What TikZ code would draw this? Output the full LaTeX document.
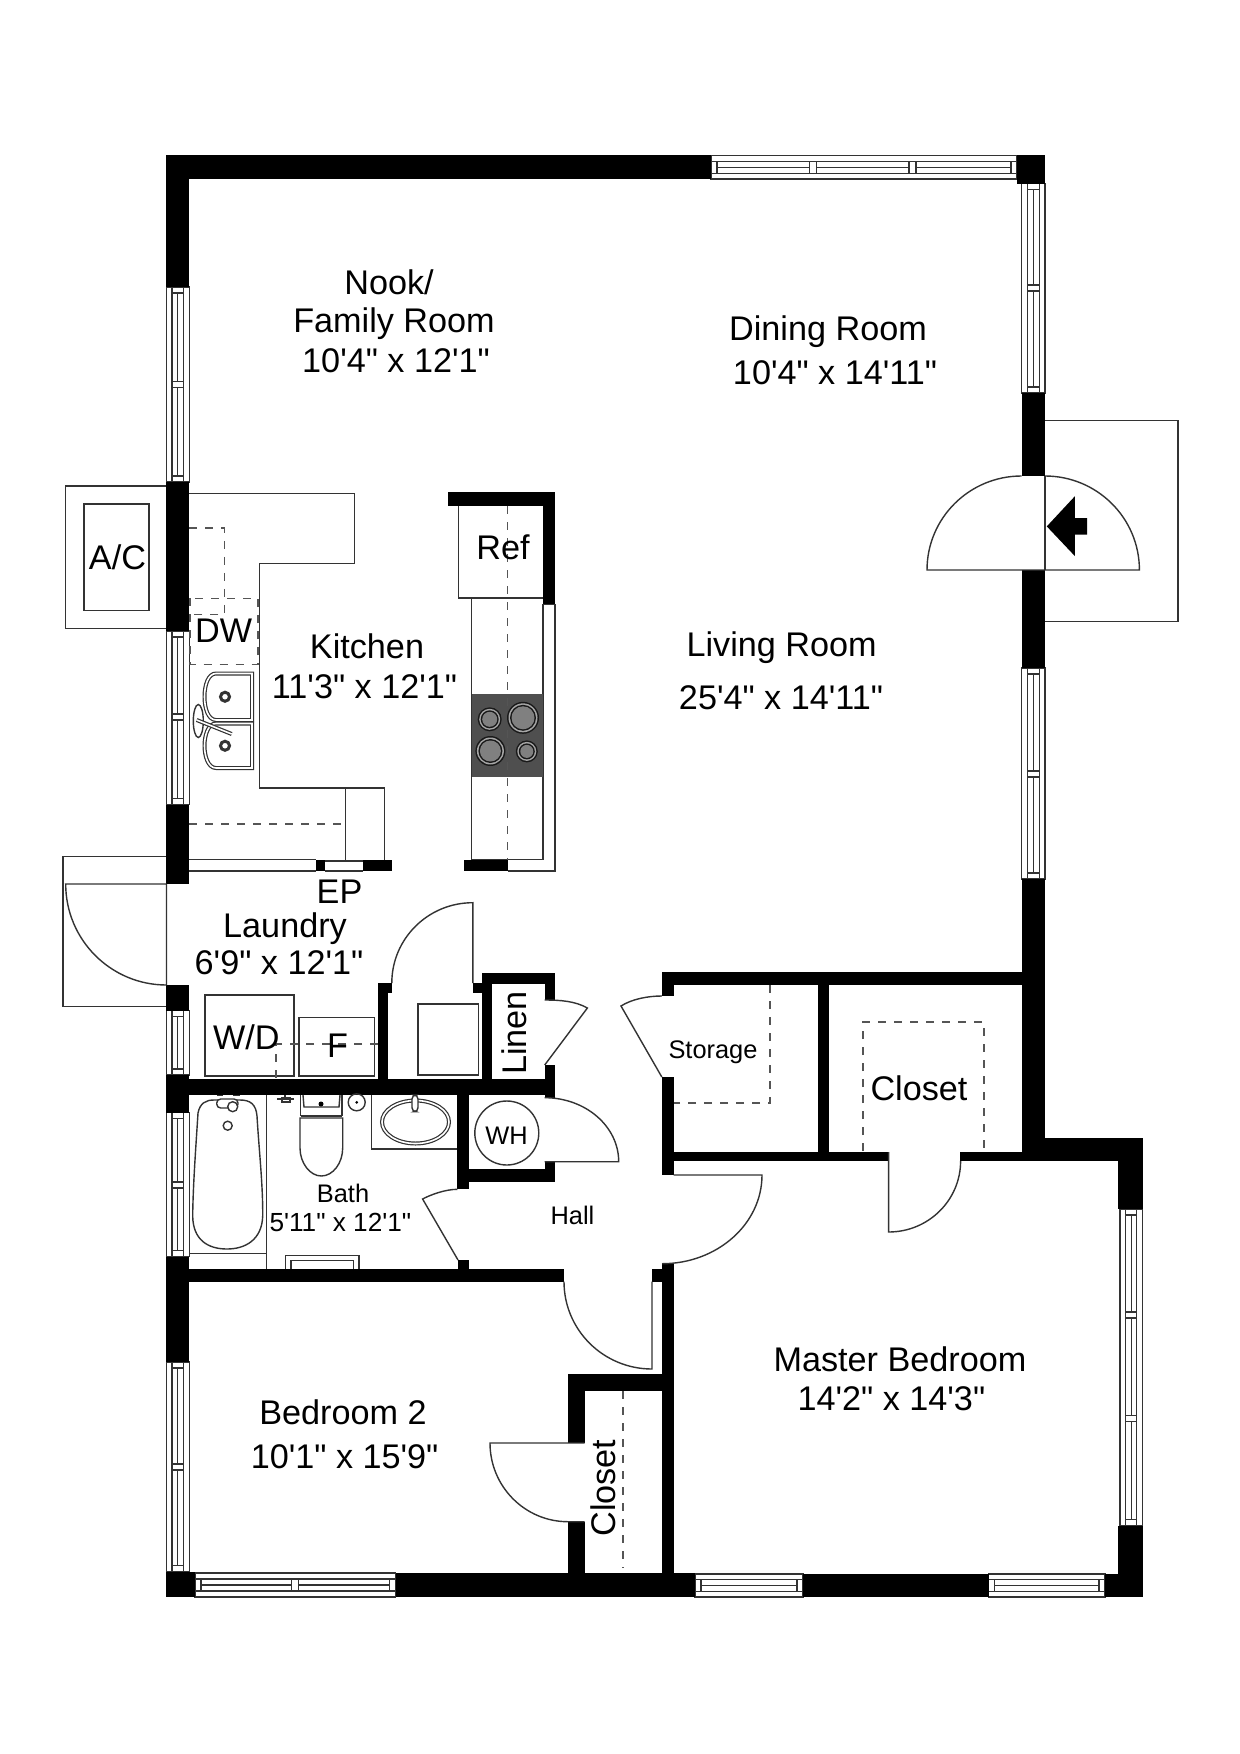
\documentclass[tikz,border=0pt]{standalone}
\usepackage{fontspec}
\setmainfont{Liberation Sans}[Ligatures=TeXOff]
\definecolor{inkline}{HTML}{333333}
\definecolor{dashline}{HTML}{555555}
\definecolor{stovegray}{HTML}{4F4F4F}
\tikzset{
  wall/.style={fill=black},
  thinline/.style={draw=inkline, line width=0.7pt},
  windowline/.style={draw=inkline, line width=0.6pt, fill=white},
  hidden/.style={draw=dashline, line width=0.7pt, dash pattern=on 4pt off 4pt},
  fixture/.style={draw=inkline, line width=0.7pt, fill=white},
  doubleline/.style={draw=inkline, line width=0.6pt, double=white, double distance=0.8pt},
  roomlabel/.style={font=\fontsize{17.1}{20}\selectfont, text=black, inner sep=0pt},
  smalllabel/.style={font=\fontsize{12.7}{15}\selectfont, text=black, inner sep=0pt}
}
% window in a vertical wall: x1 x2 y1 y2
\newcommand{\winV}[4]{
  \pgfmathsetmacro{\wa}{#1+0.25*(#2-#1)}
  \pgfmathsetmacro{\wb}{#1+0.5*(#2-#1)}
  \pgfmathsetmacro{\wc}{#1+0.75*(#2-#1)}
  \draw[windowline] (#1,#3) rectangle (#2,#4);
  \draw[windowline] (\wa,#3) rectangle (\wc,#4);
  \draw[windowline] (\wa,#3+6) -- (\wc,#3+6);
  \draw[windowline] (\wa,#4-6) -- (\wc,#4-6);
  \draw[windowline] (\wb,#3+6) -- (\wb,#4-6);
}
% window in a horizontal wall: x1 x2 y1 y2
\newcommand{\winH}[4]{
  \pgfmathsetmacro{\wa}{#3+0.25*(#4-#3)}
  \pgfmathsetmacro{\wb}{#3+0.5*(#4-#3)}
  \pgfmathsetmacro{\wc}{#3+0.75*(#4-#3)}
  \draw[windowline] (#1,#3) rectangle (#2,#4);
  \draw[windowline] (#1,\wa) rectangle (#2,\wc);
  \draw[windowline] (#1+6,\wa) -- (#1+6,\wc);
  \draw[windowline] (#2-6,\wa) -- (#2-6,\wc);
  \draw[windowline] (#1+6,\wb) -- (#2-6,\wb);
}
% mullions: x1 x2 y, and x y1 y2
\newcommand{\mulV}[3]{
  \draw[windowline] ({#1+0.25*(#2-#1)},#3-3) rectangle ({#1+0.75*(#2-#1)},#3+3);
}
\newcommand{\mulH}[3]{
  \draw[windowline] (#1-3.5,{#2+0.25*(#3-#2)}) rectangle (#1+3.5,{#2+0.75*(#3-#2)});
}
\begin{document}
\begin{tikzpicture}[x=0.5pt,y=-0.5pt]
\useasboundingbox (0,0) rectangle (1240,1754);
\fill[white] (0,0) rectangle (1240,1754);

% Porches and A/C pad
\draw[thinline] (166,486) -- (65.6,486) -- (65.6,628.5) -- (166,628.5);
\draw[thinline] (84,504) rectangle (149,610.6);
\draw[thinline] (1045,420.5) -- (1178,420.5) -- (1178,621.5) -- (1045,621.5);
\draw[thinline] (166,856.7) -- (63,856.7) -- (63,1006.7) -- (166,1006.7);

% Windows
\winV{166.3}{189.3}{287}{482}
\mulV{166.3}{189.3}{384.5}
\winV{166.3}{189.3}{631}{804.5}
\mulV{166.3}{189.3}{717}
\winV{166.3}{189.3}{1010.7}{1075}
\winV{166.3}{189.3}{1112.7}{1256.7}
\mulV{166.3}{189.3}{1185}
\winV{166.3}{189.3}{1362}{1571.7}
\mulV{166.3}{189.3}{1467}
\winV{1021.7}{1045}{183.6}{393}
\mulV{1021.7}{1045}{288}
\winV{1021.7}{1045}{668}{879}
\mulV{1021.7}{1045}{774}
\winV{1120}{1142.5}{1209}{1525.7}
\mulV{1120}{1142.5}{1315}
\mulV{1120}{1142.5}{1418.6}
\winH{711}{1017}{155.5}{179}
\mulH{813}{155.5}{179}
\mulH{912.5}{155.5}{179}
\winH{195}{395.7}{1573}{1597}
\mulH{294.6}{1573}{1597}
\winH{695}{803}{1574}{1597}
\winH{988.6}{1105}{1574}{1597}

% Walls
\foreach \xa/\ya/\xb/\yb in {
  166.3/155.5/711/179, 1017/155.5/1045/183.6,
  166.3/155.5/189.3/287, 166.3/482/189.3/631, 166.3/804.5/189.3/884,
  166.3/985/189.3/1010.7, 166.3/1075/189.3/1112.7, 166.3/1256.7/189.3/1362,
  166.3/1571.7/195/1597,
  1021.7/393/1045/476, 1021.7/570/1045/668, 1021.7/879/1045/1161,
  1021.7/1137.8/1142.5/1161, 1118/1137.8/1142.5/1209, 1118/1525.7/1142.5/1597,
  395.7/1573/695/1597, 803/1574/988.6/1597, 1105/1574/1142.5/1597,
  661.8/972/1022/984.6, 661.8/972/673.6/996, 661.8/1077/673.6/1175,
  818/984/829/1152, 661.8/1152/888.6/1161, 960/1152/1022/1161,
  662/1263.7/673.6/1597, 652/1269.3/662/1281.7,
  166.3/1269.3/564/1281.7, 458/1260/469/1270,
  457.4/1079/469/1189.3, 166.3/1079/555/1095, 457.4/1169.3/555/1182.3,
  544.7/1079/555/1098, 544.7/1161.7/555/1182.3,
  481.5/973.3/555/984.3, 481.5/973.3/491.8/1079,
  544.7/973.3/555/1000, 544.7/1065/555/1079,
  472.8/983.3/481.5/992.7, 378/983/391.8/993, 378/983/388/1079,
  568/1374/662/1391, 568/1374/584.6/1443, 568/1521.7/584.6/1573,
  448/492/555/506, 542.5/492/555/604.5, 463.6/859.6/507.7/871,
  316/859.6/325/871, 363.4/859.6/392/871}
  \fill[wall] (\xa,\ya) rectangle (\xb,\yb);

% Doors
\draw[thinline] (1045,476) -- (1045,570);
\draw[thinline] (1045,570) -- (927,570) arc[start angle=180,end angle=270,x radius=94.5,y radius=94];
\draw[thinline] (1045,570) -- (1139.4,570) arc[start angle=0,end angle=-90,x radius=94.4,y radius=94];
\draw[thinline] (166.5,884) -- (166.5,985) (166.5,884) -- (65.7,884) arc[start angle=180,end angle=90,x radius=100.8,y radius=101];
\draw[thinline] (472.8,983) -- (472.8,902.7) arc[start angle=270,end angle=180,x radius=81,y radius=80.3];
\draw[thinline] (544.7,1065) -- (587.4,1008) .. controls (575,1001) and (560,1000) .. (544.7,1000);
\draw[thinline] (544.7,1161.7) -- (618.7,1161.7) arc[start angle=0,end angle=-90,x radius=74,y radius=64];
\draw[thinline] (458,1260) -- (422.6,1199) .. controls (430,1195) and (445,1189.3) .. (457.4,1189.3);
\draw[thinline] (661.8,1077) -- (621,1006) .. controls (632,999) and (648,996) .. (661.8,996);
\draw[thinline] (888.6,1152) -- (888.6,1232) arc[start angle=90,end angle=0,x radius=72,y radius=71];
\draw[thinline] (673.6,1175) -- (762,1175) arc[start angle=0,end angle=90,x radius=100,y radius=88.7];
\draw[thinline] (652,1281.7) -- (652,1369) arc[start angle=90,end angle=180,x radius=88,y radius=87.3];
\draw[thinline] (584.6,1443) -- (490,1443) arc[start angle=180,end angle=90,x radius=78,y radius=78.7] -- (584.6,1521.7);
\fill[black] (1046.8,526.4) -- (1074.8,496.3) -- (1074.8,518) -- (1087,518) -- (1087,534.6) -- (1074.8,534.6) -- (1074.8,556) -- cycle;

% Kitchen counters
\draw[thinline] (189.3,493.3) -- (354.6,493.3) -- (354.6,563.7) -- (259.7,563.7) -- (259.7,788) -- (384.4,788) -- (384.4,859.6);
\draw[thinline] (345.4,788) -- (345.4,859.6);
\draw[thinline] (189.3,859.6) -- (316,859.6) (189.3,871) -- (316,871) (325,871) -- (363.4,871);
\draw[thinline] (325,861) -- (363.4,861);
\draw[hidden] (189.3,528) -- (224.5,528) -- (224.5,614.7) -- (189.3,614.7);
\draw[hidden] (190,598.4) rectangle (258,664.7);
\draw[hidden] (189.3,824) -- (345.4,824);

% Ref and range
\draw[thinline] (458.3,506) -- (458.3,598) -- (542.5,598);
\draw[thinline] (471.7,598) -- (471.7,859.6) -- (507.7,859.6);
\draw[thinline] (507.7,859.6) -- (543,859.6) -- (543,604.5) -- (555,604.5) -- (555,871) -- (507.7,871);
\fill[stovegray] (471.7,693.8) rectangle (542.5,777);
\draw[hidden] (507.3,506) -- (507.3,859.6);
\foreach \bx/\by/\br in {489.7/719.3/12, 523/717.8/16, 490.4/751/15, 526.8/751.4/11} {
  \fill[black!90] (\bx,\by) circle[radius=\br];
  \fill[black!35] (\bx,\by) circle[radius=\br-1.5];
  \fill[black!90] (\bx,\by) circle[radius=\br-3];
  \fill[black!50] (\bx,\by) circle[radius=\br-4.5];
}

% Sink
\foreach \ya/\yb in {673.5/720, 723.5/768} {
  \pgfmathsetmacro{\ym}{(\ya+\yb)/2}
  \draw[doubleline] (252,\ya) -- (216,\ya) .. controls (208,\ya) and (204.5,\ya+12) .. (204.5,\ym) .. controls (204.5,\yb-12) and (208,\yb) .. (216,\yb) -- (252,\yb) -- cycle;
  \draw[draw=inkline,line width=1.5pt,fill=white] (225,\ym) circle[radius=4.5];
}
\draw[thinline,fill=white] (198.3,721) ellipse[x radius=5,y radius=16.5];
\draw[doubleline] (196.7,720) -- (231.7,734);

% Laundry fixtures
\draw[thinline] (204.8,995) rectangle (294,1076);
\draw[thinline] (299,1017.3) rectangle (374.4,1076);
\draw[thinline] (417.9,1004) rectangle (478.7,1075);
\draw[hidden] (378,1044) -- (276,1044) -- (276,1079);

% Bath fixtures
\draw[thinline] (266.7,1095) -- (266.7,1269);
\draw[thinline] (189.3,1253.7) -- (266.7,1253.7);
\draw[thinline] (198,1113) .. controls (200,1103) and (206,1100) .. (214,1100) -- (240,1100) .. controls (250,1100) and (256,1104) .. (257,1116) .. controls (259,1150) and (263,1185) .. (262.7,1216) .. controls (262,1240) and (245,1249) .. (227,1249) .. controls (208,1249) and (193,1240) .. (192.7,1216) .. controls (193,1185) and (196,1145) .. (198,1113) -- cycle;
\draw[thinline] (227.7,1125.7) circle[radius=4.5];
\draw[fixture,rounded corners=2pt] (216.7,1099) rectangle (238,1108);
\draw[fixture] (232.7,1106.7) circle[radius=5];
\draw[thinline] (217,1095.5) -- (223,1095.5) (233,1095.5) -- (240,1095.5);
\draw[thinline] (277,1099) -- (294,1099) (285,1095) -- (285,1100) (282,1098) rectangle (290,1102);
\draw[thinline] (300.7,1116) -- (300.7,1095) (342,1095) -- (342,1116) (300.7,1116) -- (342,1116);
\draw[thinline] (303,1095) -- (304,1107) -- (339,1107) -- (340,1095);
\fill[black] (321,1104) circle[radius=2.5];
\draw[thinline] (300,1118) -- (342.7,1118) -- (342.7,1148) .. controls (342.7,1163) and (333,1176) .. (321.3,1176) .. controls (310,1176) and (300,1163) .. (300,1148) -- cycle;
\draw[thinline] (356.7,1102.3) circle[radius=8.5];
\fill[black] (356.7,1102.3) circle[radius=1.5];
\draw[thinline] (371.7,1095) -- (371.7,1149) -- (457.4,1149);
\draw[doubleline] (415.5,1122) ellipse[x radius=33.5,y radius=21.5];
\draw[fixture,rounded corners=2pt] (412,1095) rectangle (418,1111.7);
\draw[thinline] (285.7,1269) -- (285.7,1255.7) -- (359,1255.7) -- (359,1269);
\draw[thinline] (291,1269) -- (291,1260.7) -- (353.3,1260.7) -- (353.3,1269);

% Water heater and closet lines
\draw[thinline] (506.8,1133) circle[radius=32];
\draw[hidden] (770,985) -- (770,1103) -- (673.6,1103);
\draw[hidden] (863,1151) -- (863,1022) -- (984,1022) -- (984,1151);
\draw[hidden] (623,1391) -- (623,1568);

% Room labels
\node[roomlabel] (nook) at (389,282) {Nook/};
\node[roomlabel] (family) at (394,323.5) {Family Room};
\node[roomlabel] (familysize) at (396,361) {10'4" x 12'1"};
\node[roomlabel] (dining) at (828,331.5) {Dining Room};
\node[roomlabel] (diningsize) at (835,373) {10'4" x 14'11"};
\node[roomlabel] (living) at (781.6,648) {Living Room};
\node[roomlabel] (livingsize) at (781,698) {25'4" x 14'11"};
\node[roomlabel] (kitchen) at (367,646) {Kitchen};
\node[roomlabel] (kitchensize) at (364.5,687) {11'3" x 12'1"};
\node[roomlabel] (ref) at (503,547) {Ref};
\node[roomlabel] (dw) at (223.7,631) {DW};
\node[roomlabel] (ac) at (117.5,557.5) {A/C};
\node[roomlabel] (ep) at (339.5,892) {EP};
\node[roomlabel] (laundry) at (285,928.5) {Laundry};
\node[roomlabel] (laundrysize) at (279,963) {6'9" x 12'1"};
\node[roomlabel] (wd) at (246.3,1037) {W/D};
\node[roomlabel] (freezer) at (337.6,1046) {F};
\node[roomlabel,rotate=90] (linen) at (514.5,1033) {Linen};
\node[smalllabel] (wh) at (506.5,1136) {WH};
\node[smalllabel] (bath) at (343,1193) {Bath};
\node[smalllabel,font=\fontsize{13.1}{15}\selectfont] (bathsize) at (340.4,1222) {5'11" x 12'1"};
\node[smalllabel] (hall) at (572.5,1215) {Hall};
\node[smalllabel] (storage) at (713,1052) {Storage};
\node[roomlabel] (closetmaster) at (919,1088) {Closet};
\node[roomlabel] (master) at (900,1359) {Master Bedroom};
\node[roomlabel] (mastersize) at (891.4,1399) {14'2" x 14'3"};
\node[roomlabel] (bedroom) at (343,1412) {Bedroom 2};
\node[roomlabel] (bedroomsize) at (344.6,1457) {10'1" x 15'9"};
\node[roomlabel,rotate=90] (closetbed) at (603.6,1488) {Closet};
\end{tikzpicture}
\end{document}
